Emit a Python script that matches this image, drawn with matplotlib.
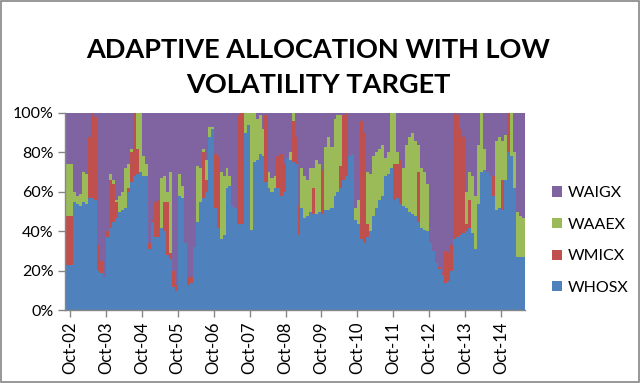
import numpy as np
import pandas as pd
import matplotlib
matplotlib.use('Agg')
import matplotlib.pyplot as plt
import matplotlib.dates as mdates
from matplotlib.patches import Patch, Rectangle

plt.rcParams['font.family'] = ['Lato', 'DejaVu Sans']

# monthly weights (%), Oct-2002 .. May-2015
whosx = [23, 55, 54, 53, 55, 54, 57, 57, 56, 20, 19, 17, 37, 42, 45, 47, 50, 51, 52, 60,
         65, 68, 69, 70, 68, 68, 31, 45, 37, 37, 42, 40, 28, 26, 12, 10, 58, 57, 34, 13,
         14, 32, 45, 55, 57, 60, 88, 92, 52, 42, 36, 38, 62, 63, 53, 52, 44, 44, 90, 94,
         41, 75, 76, 79, 78, 65, 62, 60, 62, 62, 58, 60, 77, 76, 75, 74, 38, 52, 47, 48,
         50, 49, 49, 50, 49, 51, 51, 52, 58, 60, 62, 66, 68, 78, 79, 46, 44, 36, 34, 37,
         40, 48, 52, 56, 58, 68, 69, 72, 56, 57, 54, 53, 52, 50, 49, 48, 45, 42, 41, 40,
         34, 30, 24, 21, 18, 14, 15, 20, 36, 37, 38, 39, 40, 42, 39, 31, 54, 70, 71, 70,
         68, 58, 51, 52, 51, 66, 80, 78, 62, 27, 27, 27]
wmicx = [25, 0, 0, 0, 0, 0, 31, 43, 42, 13, 6, 0, 3, 24, 19, 8, 0, 0, 0, 2,
         15, 32, 13, 0, 0, 0, 3, 1, 18, 19, 0, 15, 27, 3, 8, 3, 0, 0, 0, 4,
         3, 0, 0, 0, 23, 6, 0, 0, 27, 36, 0, 0, 0, 0, 0, 0, 55, 56, 0, 0,
         0, 0, 0, 0, 0, 34, 0, 0, 0, 16, 21, 14, 0, 0, 21, 14, 15, 0, 0, 0,
         0, 13, 0, 0, 22, 0, 0, 0, 0, 0, 11, 33, 32, 0, 0, 0, 0, 60, 56, 7,
         0, 0, 0, 0, 0, 0, 0, 0, 18, 17, 22, 0, 0, 0, 0, 0, 25, 0, 0, 0,
         0, 0, 0, 1, 1, 16, 14, 13, 64, 62, 54, 49, 4, 14, 0, 0, 0, 0, 0, 0,
         0, 10, 0, 0, 15, 0, 20, 0, 0, 0, 0, 0]
waaex = [26, 5, 4, 6, 15, 15, 0, 0, 0, 0, 0, 0, 0, 3, 2, 1, 8, 9, 20, 12,
         2, 0, 18, 30, 10, 6, 0, 0, 0, 0, 25, 13, 5, 41, 0, 0, 11, 6, 0, 0,
         0, 0, 28, 17, 2, 10, 5, 1, 0, 0, 34, 30, 10, 5, 0, 0, 0, 0, 10, 6,
         59, 25, 21, 20, 14, 0, 8, 7, 6, 0, 0, 0, 0, 4, 4, 0, 0, 20, 21, 18,
         22, 10, 27, 24, 0, 32, 37, 31, 39, 39, 26, 0, 0, 0, 0, 6, 12, 0, 0, 26,
         29, 30, 28, 26, 26, 9, 11, 28, 26, 6, 0, 19, 32, 38, 41, 38, 14, 30, 29, 24,
         0, 0, 0, 0, 0, 0, 0, 0, 0, 0, 0, 0, 16, 14, 29, 27, 30, 30, 11, 0,
         0, 0, 35, 36, 20, 23, 0, 22, 18, 23, 21, 20]
waigx = [26, 40, 42, 41, 30, 31, 12, 0, 2, 67, 75, 83, 60, 31, 34, 44, 42, 40, 28, 26,
         18, 0, 0, 0, 22, 26, 66, 54, 45, 44, 33, 32, 40, 30, 80, 87, 31, 37, 66, 83,
         83, 68, 27, 28, 18, 24, 7, 7, 21, 22, 30, 32, 28, 32, 47, 48, 1, 0, 0, 0,
         0, 0, 3, 1, 8, 1, 30, 33, 32, 22, 21, 26, 23, 20, 0, 12, 47, 28, 32, 34,
         28, 28, 24, 26, 29, 17, 12, 17, 3, 1, 1, 1, 0, 22, 21, 48, 44, 4, 10, 30,
         31, 22, 20, 18, 16, 23, 20, 0, 0, 20, 24, 28, 16, 12, 10, 14, 16, 28, 30, 36,
         66, 70, 76, 78, 81, 70, 71, 67, 0, 1, 8, 12, 40, 30, 32, 42, 16, 0, 18, 30,
         32, 32, 14, 12, 14, 11, 0, 0, 20, 50, 52, 53]

names = ['WHOSX', 'WMICX', 'WAAEX', 'WAIGX']
colors = ['#4F81BD', '#C0504D', '#9BBB59', '#8064A2']

months = pd.date_range('2002-10-01', periods=len(whosx), freq='MS')
x_left = pd.Timestamp('2002-08-13')
x_right = pd.Timestamp('2015-06-01')
edges = mdates.date2num(list([x_left]) + list(months[1:]) + [x_right])

fig = plt.figure(figsize=(6.4, 3.83), dpi=100)
ax = fig.add_axes([0.1016, 0.1893, 0.7187, 0.5157])

series = np.array([whosx, wmicx, waaex, waigx], dtype=float) / 100.0
base = np.zeros(series.shape[1])
for vals, name, col in zip(series, names, colors):
    top = base + vals
    ax.fill_between(edges, np.append(base, base[-1]), np.append(top, top[-1]),
                    step='post', color=col, lw=0, label=name)
    base = top

ax.set_xlim(edges[0], edges[-1])
ax.set_ylim(0, 1)
ax.set_yticks(np.arange(0, 1.01, 0.2))
ax.set_yticklabels([f'{int(v)}%' for v in range(0, 101, 20)])
ticks = pd.date_range('2002-10-01', '2014-10-01', freq='12MS')
ax.set_xticks(mdates.date2num(list(ticks)))
ax.set_xticklabels([t.strftime('%b-%y') for t in ticks], rotation=90)

for s in ['top', 'right']:
    ax.spines[s].set_visible(False)
for s in ['left', 'bottom']:
    ax.spines[s].set_color('#868686')
    ax.spines[s].set_linewidth(1.0)
ax.tick_params(axis='both', colors='#868686', labelcolor='black', labelsize=11.5,
               length=5, width=1.0, direction='out')
ax.tick_params(axis='y', pad=3)
ax.tick_params(axis='x', labelsize=12, pad=3)

fig.text(0.497, 0.825, 'ADAPTIVE ALLOCATION WITH LOW\nVOLATILITY TARGET',
         ha='center', va='center', fontsize=19.5, fontweight='bold',
         linespacing=1.55)

handles = [Patch(facecolor=c) for c in colors[::-1]]
fig.legend(handles, names[::-1], loc='center left', bbox_to_anchor=(0.84, 0.372),
           frameon=False, fontsize=11.5, handlelength=0.6, handleheight=0.6,
           handletextpad=0.4, labelspacing=1.1)

fig.patches.append(Rectangle((0.001, 0.002), 0.997, 0.995, transform=fig.transFigure,
                             fill=False, edgecolor='#868686', lw=1.2))

fig.savefig('out.png', dpi=100)
